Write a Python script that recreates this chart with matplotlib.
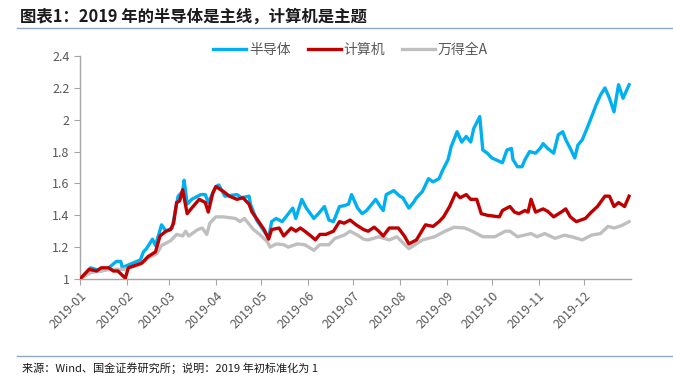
import pandas as pd
import matplotlib
matplotlib.use("Agg")
import matplotlib.pyplot as plt
import matplotlib.dates as mdates
from matplotlib.lines import Line2D

plt.rcParams['font.family'] = ['Noto Sans CJK SC', 'DejaVu Sans']

# values (2019 start = 1)
semi_dates = ['2019-01-01', '2019-01-08', '2019-01-15', '2019-01-20', '2019-01-25', '2019-01-28',
              '2019-01-29', '2019-01-31', '2019-02-10', '2019-02-12', '2019-02-14', '2019-02-18',
              '2019-02-20', '2019-02-24', '2019-02-27', '2019-03-03', '2019-03-05', '2019-03-07',
              '2019-03-10', '2019-03-11', '2019-03-13', '2019-03-16', '2019-03-22', '2019-03-25',
              '2019-03-27', '2019-04-01', '2019-04-03', '2019-04-07', '2019-04-15', '2019-04-18',
              '2019-04-23', '2019-04-24', '2019-04-28', '2019-05-03', '2019-05-06', '2019-05-08',
              '2019-05-11', '2019-05-15', '2019-05-22', '2019-05-24', '2019-05-28', '2019-05-31',
              '2019-06-05', '2019-06-08', '2019-06-12', '2019-06-15', '2019-06-18', '2019-06-22',
              '2019-06-25', '2019-06-28', '2019-06-30', '2019-07-04', '2019-07-07', '2019-07-10',
              '2019-07-16', '2019-07-19', '2019-07-21', '2019-07-23', '2019-07-28', '2019-08-01',
              '2019-08-03', '2019-08-07', '2019-08-10', '2019-08-12', '2019-08-16', '2019-08-20',
              '2019-08-23', '2019-08-27', '2019-08-29', '2019-09-02', '2019-09-04', '2019-09-08',
              '2019-09-11', '2019-09-14', '2019-09-17', '2019-09-19', '2019-09-23', '2019-09-25',
              '2019-09-28', '2019-10-01', '2019-10-08', '2019-10-11', '2019-10-14', '2019-10-15',
              '2019-10-18', '2019-10-21', '2019-10-23', '2019-10-26', '2019-10-30', '2019-11-02',
              '2019-11-04', '2019-11-07', '2019-11-11', '2019-11-14', '2019-11-17', '2019-11-19',
              '2019-11-22', '2019-11-25', '2019-11-27', '2019-11-30', '2019-12-04', '2019-12-07',
              '2019-12-09', '2019-12-12', '2019-12-15', '2019-12-18', '2019-12-21', '2019-12-24',
              '2019-12-27', '2019-12-31']
semi_vals = [1.00, 1.07, 1.05, 1.07, 1.11, 1.11,
             1.07, 1.08, 1.12, 1.17, 1.19, 1.25,
             1.21, 1.34, 1.30, 1.32, 1.42, 1.52,
             1.55, 1.62, 1.47, 1.50, 1.53, 1.53,
             1.48, 1.58, 1.59, 1.52, 1.53, 1.51,
             1.52, 1.47, 1.37, 1.30, 1.26, 1.36,
             1.38, 1.36, 1.445, 1.38, 1.50, 1.445,
             1.38, 1.41, 1.455, 1.37, 1.36, 1.455,
             1.46, 1.47, 1.53, 1.445, 1.41, 1.43,
             1.50, 1.455, 1.43, 1.53, 1.555, 1.52,
             1.51, 1.445, 1.48, 1.51, 1.55, 1.63,
             1.61, 1.63, 1.675, 1.75, 1.83, 1.925,
             1.86, 1.895, 1.86, 1.945, 2.02, 1.81,
             1.79, 1.76, 1.73, 1.81, 1.82, 1.75,
             1.705, 1.705, 1.75, 1.80, 1.79, 1.82,
             1.85, 1.82, 1.79, 1.905, 1.925, 1.875,
             1.82, 1.76, 1.84, 1.875, 1.967, 2.04,
             2.09, 2.155, 2.20, 2.135, 2.05, 2.22,
             2.135, 2.22]

comp_dates = ['2019-01-01', '2019-01-07', '2019-01-12', '2019-01-15', '2019-01-20', '2019-01-23',
              '2019-01-26', '2019-01-31', '2019-02-02', '2019-02-11', '2019-02-15', '2019-02-20',
              '2019-02-23', '2019-02-27', '2019-03-02', '2019-03-04', '2019-03-06', '2019-03-08',
              '2019-03-10', '2019-03-13', '2019-03-16', '2019-03-21', '2019-03-25', '2019-03-27',
              '2019-03-30', '2019-04-01', '2019-04-06', '2019-04-10', '2019-04-15', '2019-04-19',
              '2019-04-23', '2019-04-25', '2019-04-28', '2019-05-03', '2019-05-06', '2019-05-08',
              '2019-05-13', '2019-05-16', '2019-05-21', '2019-05-24', '2019-05-27', '2019-05-30',
              '2019-06-03', '2019-06-06', '2019-06-09', '2019-06-13', '2019-06-18', '2019-06-22',
              '2019-06-25', '2019-06-29', '2019-07-03', '2019-07-08', '2019-07-11', '2019-07-15',
              '2019-07-18', '2019-07-21', '2019-07-25', '2019-07-31', '2019-08-04', '2019-08-07',
              '2019-08-12', '2019-08-18', '2019-08-23', '2019-08-27', '2019-08-30', '2019-09-03',
              '2019-09-07', '2019-09-10', '2019-09-14', '2019-09-17', '2019-09-21', '2019-09-24',
              '2019-09-28', '2019-10-06', '2019-10-08', '2019-10-13', '2019-10-16', '2019-10-19',
              '2019-10-23', '2019-10-25', '2019-10-27', '2019-10-30', '2019-11-04', '2019-11-07',
              '2019-11-11', '2019-11-16', '2019-11-19', '2019-11-22', '2019-11-26', '2019-12-02',
              '2019-12-06', '2019-12-10', '2019-12-15', '2019-12-18', '2019-12-21', '2019-12-24',
              '2019-12-28', '2019-12-31']
comp_vals = [1.00, 1.06, 1.05, 1.07, 1.07, 1.05,
             1.05, 1.005, 1.07, 1.10, 1.14, 1.17,
             1.27, 1.30, 1.31, 1.35, 1.48, 1.49,
             1.56, 1.41, 1.445, 1.50, 1.48, 1.42,
             1.54, 1.58, 1.55, 1.52, 1.50, 1.51,
             1.47, 1.42, 1.38, 1.31, 1.25, 1.31,
             1.32, 1.27, 1.32, 1.30, 1.32, 1.30,
             1.27, 1.246, 1.28, 1.28, 1.30, 1.36,
             1.35, 1.37, 1.34, 1.31, 1.30, 1.325,
             1.30, 1.27, 1.32, 1.32, 1.27, 1.22,
             1.245, 1.34, 1.33, 1.36, 1.39, 1.455,
             1.54, 1.51, 1.53, 1.50, 1.50, 1.41,
             1.40, 1.39, 1.43, 1.455, 1.42, 1.41,
             1.43, 1.42, 1.50, 1.42, 1.44, 1.425,
             1.39, 1.42, 1.44, 1.39, 1.36, 1.38,
             1.42, 1.455, 1.52, 1.52, 1.455, 1.48,
             1.455, 1.52]

wind_dates = ['2019-01-01', '2019-01-08', '2019-01-21', '2019-01-30', '2019-02-10', '2019-02-15',
              '2019-02-21', '2019-02-24', '2019-03-02', '2019-03-06', '2019-03-10', '2019-03-12',
              '2019-03-14', '2019-03-20', '2019-03-23', '2019-03-26', '2019-03-28', '2019-04-01',
              '2019-04-06', '2019-04-14', '2019-04-17', '2019-04-20', '2019-04-26', '2019-04-30',
              '2019-05-05', '2019-05-07', '2019-05-11', '2019-05-16', '2019-05-19', '2019-05-25',
              '2019-05-30', '2019-06-05', '2019-06-09', '2019-06-15', '2019-06-19', '2019-06-25',
              '2019-06-29', '2019-07-04', '2019-07-08', '2019-07-11', '2019-07-18', '2019-07-25',
              '2019-07-30', '2019-08-07', '2019-08-16', '2019-08-24', '2019-08-31', '2019-09-06',
              '2019-09-13', '2019-09-18', '2019-09-25', '2019-10-03', '2019-10-10', '2019-10-13',
              '2019-10-18', '2019-10-27', '2019-10-31', '2019-11-05', '2019-11-12', '2019-11-18',
              '2019-11-23', '2019-11-30', '2019-12-06', '2019-12-12', '2019-12-17', '2019-12-21',
              '2019-12-26', '2019-12-31']
wind_vals = [1.00, 1.04, 1.06, 1.06, 1.09, 1.13,
             1.16, 1.21, 1.24, 1.28, 1.27, 1.30,
             1.27, 1.31, 1.32, 1.28, 1.35, 1.39,
             1.39, 1.38, 1.36, 1.38, 1.31, 1.28,
             1.235, 1.20, 1.22, 1.215, 1.20, 1.22,
             1.215, 1.18, 1.215, 1.215, 1.255, 1.275,
             1.30, 1.275, 1.25, 1.245, 1.265, 1.245,
             1.265, 1.19, 1.245, 1.265, 1.30, 1.325,
             1.32, 1.30, 1.265, 1.265, 1.30, 1.30,
             1.265, 1.285, 1.265, 1.285, 1.255, 1.275,
             1.265, 1.245, 1.275, 1.285, 1.33, 1.32,
             1.335, 1.36]

series_names = ['半导体', '计算机', '万得全A']
series_colors = ['#00b0f0', '#c00000', '#bfbfbf']

title_text = '图表1：2019 年的半导体是主线，计算机是主题'
source_text = '来源：Wind、国金证券研究所；说明：2019 年初标准化为 1'

fig = plt.figure(figsize=(6.73, 3.79), dpi=100)
ax = fig.add_axes([0.119, 0.264, 0.818, 0.588])

ax.plot(pd.to_datetime(semi_dates), semi_vals, color=series_colors[0], lw=2.4)
ax.plot(pd.to_datetime(comp_dates), comp_vals, color=series_colors[1], lw=2.4)
ax.plot(pd.to_datetime(wind_dates), wind_vals, color=series_colors[2], lw=2.4)
# keep computer line over the others like the source
ax.lines[1].set_zorder(3)

ax.set_xlim(pd.Timestamp('2019-01-01'), pd.Timestamp('2020-01-01'))
ax.set_ylim(1, 2.4)
ax.set_yticks([1, 1.2, 1.4, 1.6, 1.8, 2, 2.2, 2.4])
ax.set_yticklabels(['1', '1.2', '1.4', '1.6', '1.8', '2', '2.2', '2.4'])
ax.xaxis.set_major_locator(mdates.MonthLocator())
ax.xaxis.set_major_formatter(mdates.DateFormatter('%Y-%m'))
ax.set_xticks(ax.get_xticks()[:-1])

for s in ['top', 'right']:
    ax.spines[s].set_visible(False)
for s in ['left', 'bottom']:
    ax.spines[s].set_color('#a6a6a6')
    ax.spines[s].set_linewidth(1.0)
ax.tick_params(axis='both', colors='#a6a6a6', length=4, labelcolor='#595959', labelsize=9)
plt.setp(ax.get_xticklabels(), rotation=45, ha='right', rotation_mode='anchor')

handles = [Line2D([], [], color=c, lw=2.4) for c in series_colors]
fig.legend(handles, series_names, loc='center', bbox_to_anchor=(0.521, 0.868), ncol=3,
           frameon=False, fontsize=10, handlelength=2.4, handletextpad=0.2,
           columnspacing=1.2, labelcolor='#595959')

fig.text(0.03, 0.955, title_text, fontsize=11.8, fontweight='bold', style='italic',
         color='#1a1a1a', va='center', ha='left')
fig.add_artist(Line2D([0.025, 1.0], [0.926, 0.926], transform=fig.transFigure,
                      color='#8eaac8', lw=1.0))
fig.add_artist(Line2D([0.025, 1.0], [0.062, 0.062], transform=fig.transFigure,
                      color='#8eaac8', lw=1.0))
fig.text(0.032, 0.028, source_text, fontsize=8, color='#1a1a1a', va='center', ha='left')

fig.savefig('out.png', dpi=100)
